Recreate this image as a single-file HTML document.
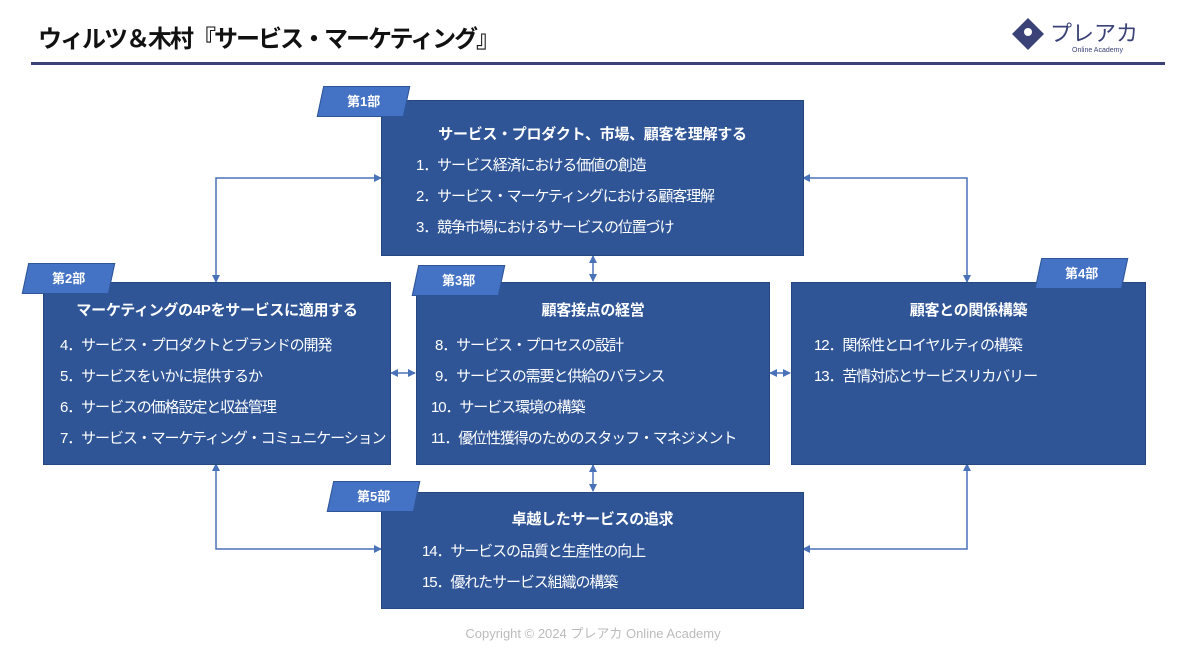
<!DOCTYPE html>
<html><head><meta charset="utf-8"><style>
body{margin:0;width:1186px;height:668px;background:#fff;position:relative;overflow:hidden;font-family:"Liberation Sans","Noto Sans CJK JP",sans-serif}
.t{position:absolute;left:38px;top:19px;font-size:24px;font-weight:bold;color:#111;letter-spacing:-2px}
.hl{position:absolute;left:31px;top:62px;width:1134px;height:3px;background:#3a4277}
.box{position:absolute;background:#2f5597;color:#fff;border:1px solid #25467f;box-sizing:border-box}
.box h3{margin:0;text-align:center;font-size:15px;font-weight:bold;position:absolute;left:0;right:0;letter-spacing:-0.3px}
.box p{margin:0;position:absolute;font-size:15px;white-space:nowrap;letter-spacing:-1.1px}
.tag{position:absolute;width:85px;height:29px;background:#4472c4;border:1px solid #2f5597;transform:skewX(-12deg);color:#fff;font-weight:bold;font-size:13px;text-align:center;line-height:29px}
.tag span{display:inline-block;transform:skewX(12deg)}
.cp{position:absolute;left:0;right:0;top:623px;text-align:center;font-size:13px;color:#bbb}
</style></head><body>
<div class="t">ウィルツ＆木村『サービス・マーケティング』</div>
<svg style="position:absolute;left:1010px;top:16px" width="150" height="40"><polygon points="18,2 34,18 18,34 2,18" fill="#3a4277"/><circle cx="18" cy="16" r="4" fill="#fff"/><text x="40" y="25" font-size="22" fill="#3a4277" font-family="Noto Sans CJK JP,sans-serif">プレアカ</text><text x="62" y="36" font-size="7" fill="#3a4277" font-family="Liberation Sans,sans-serif">Online Academy</text></svg>
<div class="hl"></div>
<svg style="position:absolute;left:0;top:0" width="1186" height="668">
<defs><marker id="a" markerWidth="8" markerHeight="8" refX="7" refY="4" orient="auto-start-reverse" markerUnits="userSpaceOnUse"><path d="M0,0 L8,4 L0,8z" fill="#4a72b8"/></marker></defs>
<g stroke="#4a72b8" stroke-width="1.5" fill="none">
<polyline points="381,178 216,178 216,282" marker-start="url(#a)" marker-end="url(#a)"/>
<polyline points="803,178 967,178 967,282" marker-start="url(#a)" marker-end="url(#a)"/>
<polyline points="216,464 216,549 381,549" marker-start="url(#a)" marker-end="url(#a)"/>
<polyline points="967,464 967,549 803,549" marker-start="url(#a)" marker-end="url(#a)"/>
<line x1="593" y1="256" x2="593" y2="281" marker-start="url(#a)" marker-end="url(#a)"/>
<line x1="593" y1="465" x2="593" y2="491" marker-start="url(#a)" marker-end="url(#a)"/>
<line x1="391" y1="373" x2="415" y2="373" marker-start="url(#a)" marker-end="url(#a)"/>
<line x1="770" y1="373" x2="790" y2="373" marker-start="url(#a)" marker-end="url(#a)"/>
</g></svg>
<div class="box" style="left:381px;top:100px;width:423px;height:156px"><h3 style="top:22px">サービス・プロダクト、市場、顧客を理解する</h3>
<p style="left:34px;top:53px">1．サービス経済における価値の創造</p><p style="left:34px;top:84px">2．サービス・マーケティングにおける顧客理解</p><p style="left:34px;top:115px">3．競争市場におけるサービスの位置づけ</p></div>
<div class="box" style="left:43px;top:282px;width:348px;height:183px"><h3 style="top:16px">マーケティングの4Pをサービスに適用する</h3>
<p style="left:16px;top:51px">4．サービス・プロダクトとブランドの開発</p><p style="left:16px;top:82px">5．サービスをいかに提供するか</p><p style="left:16px;top:113px">6．サービスの価格設定と収益管理</p><p style="left:16px;top:144px">7．サービス・マーケティング・コミュニケーション</p></div>
<div class="box" style="left:416px;top:282px;width:354px;height:183px"><h3 style="top:16px">顧客接点の経営</h3>
<p style="left:18px;top:51px">8．サービス・プロセスの設計</p><p style="left:18px;top:82px">9．サービスの需要と供給のバランス</p><p style="left:14px;top:113px">10．サービス環境の構築</p><p style="left:14px;top:144px">11．優位性獲得のためのスタッフ・マネジメント</p></div>
<div class="box" style="left:791px;top:282px;width:355px;height:183px"><h3 style="top:16px">顧客との関係構築</h3>
<p style="left:22px;top:51px">12．関係性とロイヤルティの構築</p><p style="left:22px;top:82px">13．苦情対応とサービスリカバリー</p></div>
<div class="box" style="left:381px;top:492px;width:423px;height:117px"><h3 style="top:15px">卓越したサービスの追求</h3>
<p style="left:40px;top:47px">14．サービスの品質と生産性の向上</p><p style="left:40px;top:78px">15．優れたサービス組織の構築</p></div>
<div class="tag" style="left:320px;top:86px"><span>第1部</span></div>
<div class="tag" style="left:25px;top:263px"><span>第2部</span></div>
<div class="tag" style="left:415px;top:265px"><span>第3部</span></div>
<div class="tag" style="left:1038px;top:258px"><span>第4部</span></div>
<div class="tag" style="left:330px;top:481px"><span>第5部</span></div>
<div class="cp">Copyright © 2024 プレアカ Online Academy</div>
</body></html>
